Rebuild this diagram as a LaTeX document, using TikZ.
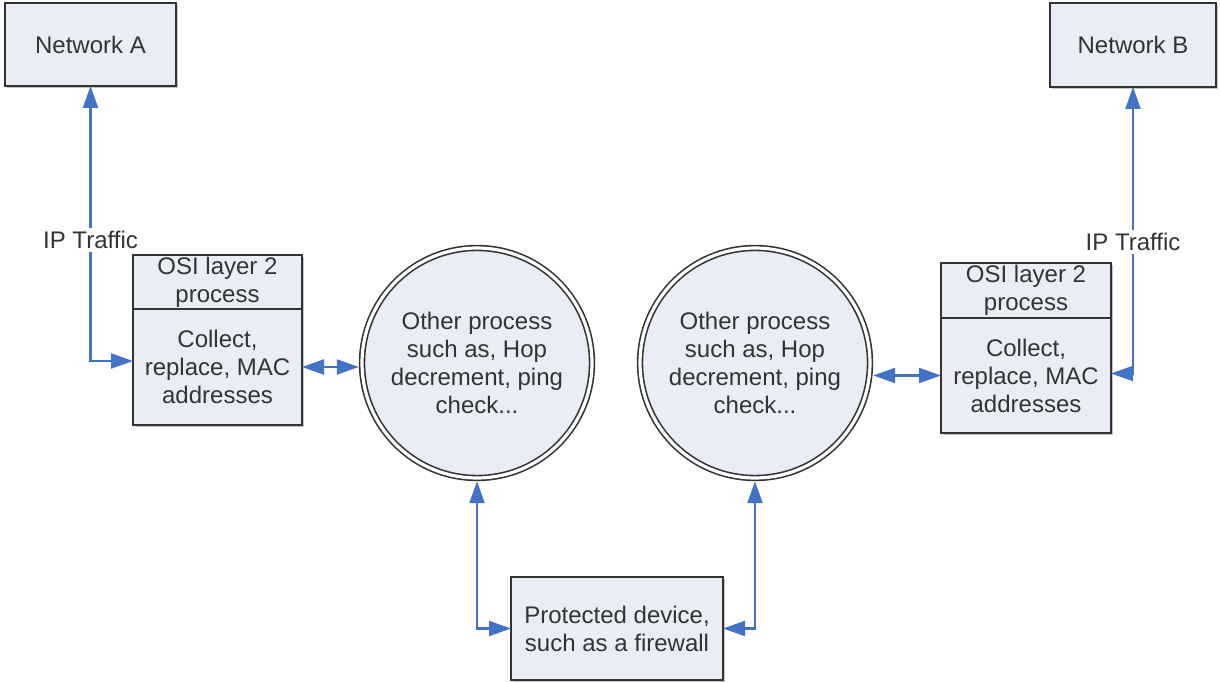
\documentclass[tikz,border=0pt]{standalone}
\usepackage{fontspec}
\setmainfont{Liberation Sans}
\usetikzlibrary{positioning, arrows, arrows.meta, shadows}

\definecolor{boxfill}{HTML}{E9EDF6}
\definecolor{boxline}{HTML}{333333}
\definecolor{linkblue}{HTML}{4472C4}
\definecolor{txtgray}{HTML}{333333}

\begin{document}
\begin{tikzpicture}[x=0.5pt, y=-0.5pt,
    font=\fontsize{12}{14}\selectfont, text=txtgray,
    box/.style={draw=boxline, fill=boxfill, line width=1.2pt, align=center,
        inner sep=0pt, outer sep=0pt,
        drop shadow={shadow xshift=0.8pt, shadow yshift=-0.8pt, fill=black!45, opacity=0.5}},
    proc/.style={circle, draw=boxline, fill=boxfill, line width=0.8pt, double,
        double distance=1.6pt, minimum size=115pt, align=center, inner sep=0pt,
        outer sep=1.6pt},
    link/.style={draw=linkblue, line width=1.1pt},
    >={Triangle[length=11pt,width=7.5pt]}]
\useasboundingbox (0,0) rectangle (1220,683);

\node[box, minimum width=85.5pt, minimum height=41.5pt] (netA) at (90.5,44.5) {Network A};
\node[box, minimum width=83pt, minimum height=42pt] (netB) at (1133,45) {Network B};

\node[box, minimum width=84.5pt, minimum height=27pt] (osiA) at (217.5,282) {OSI layer 2\\process};
\node[box, minimum width=84.5pt, minimum height=58pt, below=0pt of osiA] (macA) {Collect,\\replace, MAC\\addresses};
\node[box, minimum width=85pt, minimum height=27.5pt] (osiB) at (1026,290.5) {OSI layer 2\\process};
\node[box, minimum width=85pt, minimum height=57.5pt, below=0pt of osiB] (macB) {Collect,\\replace, MAC\\addresses};

\node[proc] (circA) at (477,363) {Other process\\such as, Hop\\decrement, ping\\check...};
\node[proc] (circB) at (755,363) {Other process\\such as, Hop\\decrement, ping\\check...};

\node[box, minimum width=106pt, minimum height=51.5pt] (dev) at (617,628.5) {Protected device,\\such as a firewall};

% IP traffic in and out of the layer 2 boxes
\draw[link, <->] (netA.south) |- ([yshift=3pt]macA.west)
    node[pos=0.28, fill=white, inner sep=1.5pt] {IP Traffic};
\draw[link, <->] (netB.south) |- ([yshift=1pt]macB.east)
    node[pos=0.27, fill=white, inner sep=1.5pt] {IP Traffic};

\draw[link, <->] (macA.east) -- (circA.west |- macA.east);
\draw[link, <->] (circB.east |- macB.west) -- (macB.west);

% down to the protected device
\draw[link, <->] (circA.south) |- (dev.west);
\draw[link, <->] (circB.south) |- (dev.east);
\end{tikzpicture}
\end{document}
